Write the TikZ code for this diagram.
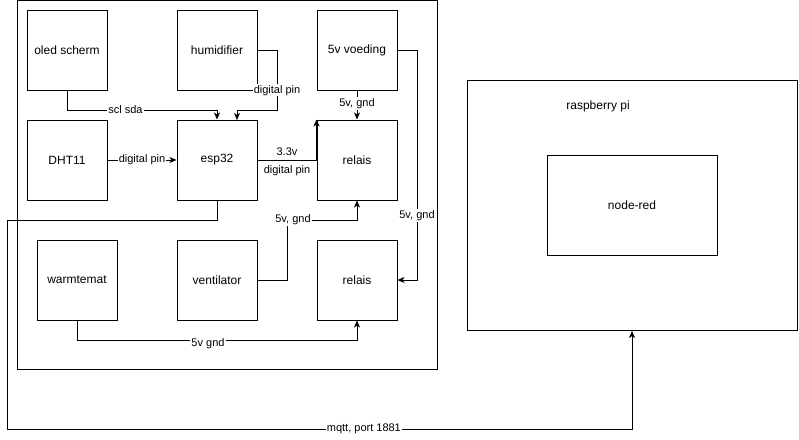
\documentclass[tikz,border=0pt]{standalone}
\usepackage{fontspec}
\setmainfont{Liberation Sans}
\usetikzlibrary{arrows.meta}
\begin{document}
\begin{tikzpicture}[x=1pt,y=-1pt,
  box/.style={draw,line width=1pt,minimum width=80pt,minimum height=80pt,inner sep=0pt,font=\fontsize{12}{14}\selectfont},
  frame/.style={draw,line width=1pt},
  conn/.style={line width=0.8pt},
  arr/.style={conn,-{Stealth[length=7pt,width=6pt,inset=2pt]}},
  lbl/.style={fill=white,inner sep=1pt,font=\fontsize{11}{13}\selectfont}]
\useasboundingbox (0,0) rectangle (799,439);
\node[frame,minimum width=420pt,minimum height=369pt,inner sep=0pt] (outer) at (227.5,185) {};
\node[frame,minimum width=330pt,minimum height=250pt,inner sep=0pt] (rpi) at (632,205.5) {};
\node[font=\fontsize{12}{14}\selectfont] (rpilbl) at (598,106) {raspberry pi};
\node[box,minimum width=170pt,minimum height=100pt] (nodered) at (632,205) {node-red};
\node[box] (oled) at (67,50) {oled scherm};
\node[box] (humid) at (217,50) {humidifier};
\node[box] (voed) at (357,50) {5v voeding};
\node[box] (dht) at (67,160) {DHT11};
\node[box] (esp) at (217,160) {esp32};
\node[box] (rel1) at (357,160) {relais};
\node[box] (warm) at (77,280) {warmtemat};
\node[box] (vent) at (217,280) {ventilator};
\node[box] (rel2) at (357,280) {relais};
% oled -> esp32
\draw[arr] (oled.south) -- (67,110) -- node[lbl,pos=0.39]{scl sda} (217,110) -- (esp.north);
% humidifier -> esp32
\draw[arr] (humid.east) -- (277,50) -- node[lbl,pos=0.67]{digital pin} (277,110) -- (237,110) -- (237,120);
% voeding -> relais1
\draw[arr] (voed.south) -- node[lbl,pos=0.45]{5v, gnd} (rel1.north);
% DHT -> esp
\draw[arr] (dht.east) -- node[lbl]{digital pin} (esp.west);
% esp -> relais1
\draw[arr] (esp.east) -- node[above=1pt,font=\fontsize{11}{13}\selectfont]{3.3v} node[below=2pt,font=\fontsize{11}{13}\selectfont]{digital pin} (rel1.west) -- (rel1.north west);
% esp -> rpi
\draw[arr] (esp.south) -- (217,220) -- (7,220) -- (7,429) -- node[lbl,pos=0.571]{mqtt, port 1881} (632,429) -- (rpi.south);
% ventilator -> relais1
\draw[arr] (vent.east) -- (287,280) -- (287,220) -- (357,220) -- (rel1.south);
\node[lbl] (vlbl) at (293,220) {5v, gnd};
% voeding -> relais2
\draw[arr] (voed.east) -- (417,50) -- node[lbl,pos=0.72]{5v, gnd} (417,280) -- (rel2.east);
% warmtemat -> relais2
\draw[arr] (warm.south) -- (77,340) -- (357,340) -- (rel2.south);
\node[lbl] (wlbl) at (208,344) {5v gnd};
\end{tikzpicture}
\end{document}
